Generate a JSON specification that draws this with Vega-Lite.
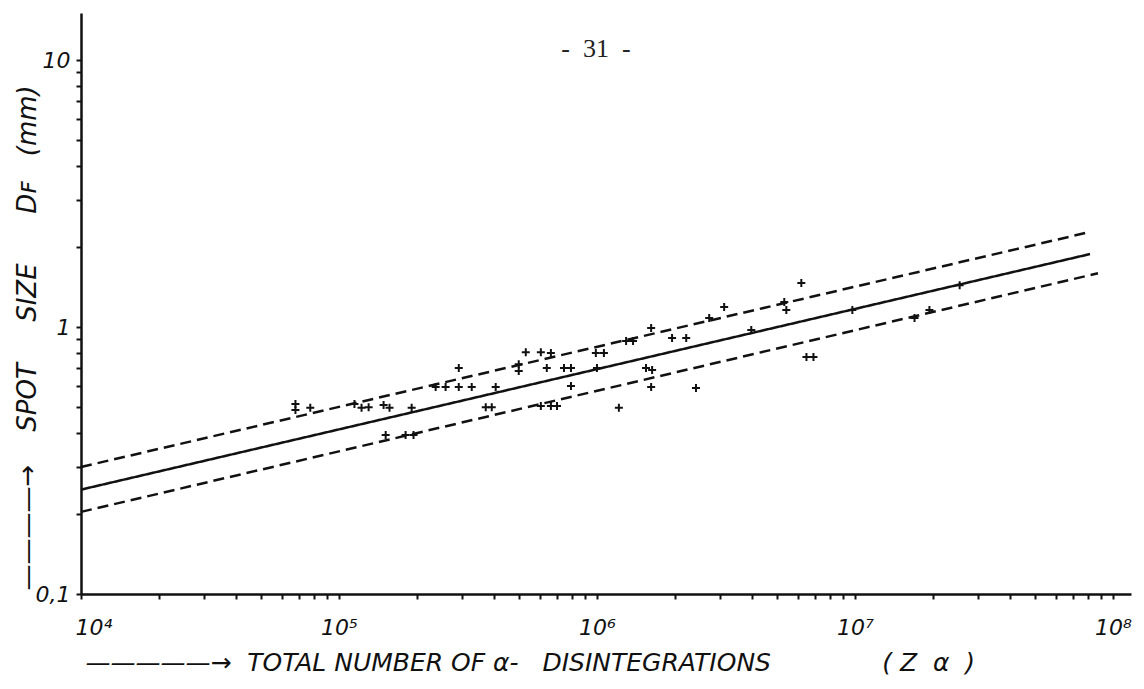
{
  "$schema": "https://vega.github.io/schema/vega-lite/v6.json",
  "autosize": {"type": "none"},
  "padding": {"left": 81, "top": 13, "right": 13, "bottom": 95},
  "width": 1050,
  "height": 581,
  "background": "white",
  "title": {"text": "-\u00a0\u00a031\u00a0\u00a0-", "font": "Liberation Serif", "fontSize": 26, "fontWeight": "normal", "color": "#222", "anchor": "middle", "dx": -10, "dy": 53},
  "config": {
    "view": {"stroke": null},
    "axis": {"grid": false, "domainColor": "#111", "domainWidth": 2.5, "tickColor": "#111", "tickWidth": 2, "tickSize": 5, "labelFont": "DejaVu Sans", "labelFontStyle": "italic", "labelFontSize": 22, "labelColor": "#111", "labelOverlap": false, "titleFont": "DejaVu Sans", "titleFontStyle": "italic", "titleFontWeight": "normal", "titleColor": "#111"}
  },
  "datasets": {
    "lines": [
      {"series": "fit", "x": 10000, "y": 0.246},
      {"series": "fit", "x": 81500000, "y": 1.876},
      {"series": "upper", "x": 10000, "y": 0.299},
      {"series": "upper", "x": 81500000, "y": 2.27},
      {"series": "lower", "x": 10000, "y": 0.203},
      {"series": "lower", "x": 87500000, "y": 1.59}
    ],
    "points": [
      {"z": 67800, "d": 0.515}, {"z": 67800, "d": 0.489}, {"z": 77400, "d": 0.498},
      {"z": 114800, "d": 0.515}, {"z": 122300, "d": 0.498}, {"z": 130300, "d": 0.501},
      {"z": 148900, "d": 0.510}, {"z": 157000, "d": 0.498}, {"z": 191300, "d": 0.498},
      {"z": 151700, "d": 0.394}, {"z": 181200, "d": 0.394}, {"z": 194500, "d": 0.394},
      {"z": 237000, "d": 0.596}, {"z": 259000, "d": 0.596}, {"z": 291300, "d": 0.596},
      {"z": 327000, "d": 0.596}, {"z": 291300, "d": 0.702}, {"z": 405000, "d": 0.596},
      {"z": 370600, "d": 0.501}, {"z": 391000, "d": 0.501}, {"z": 497500, "d": 0.726},
      {"z": 497500, "d": 0.684}, {"z": 529800, "d": 0.805}, {"z": 606000, "d": 0.805},
      {"z": 662900, "d": 0.800}, {"z": 639000, "d": 0.702}, {"z": 745000, "d": 0.702},
      {"z": 793000, "d": 0.702}, {"z": 990000, "d": 0.800}, {"z": 1064000, "d": 0.800},
      {"z": 1000000, "d": 0.702}, {"z": 1297000, "d": 0.887}, {"z": 1380000, "d": 0.887},
      {"z": 1622000, "d": 0.991}, {"z": 793000, "d": 0.601}, {"z": 606000, "d": 0.506},
      {"z": 662900, "d": 0.506}, {"z": 700000, "d": 0.506}, {"z": 1549000, "d": 0.702},
      {"z": 1636000, "d": 0.690}, {"z": 1622000, "d": 0.596}, {"z": 1216000, "d": 0.498},
      {"z": 2420000, "d": 0.591}, {"z": 1955000, "d": 0.910}, {"z": 2218000, "d": 0.910},
      {"z": 2723000, "d": 1.081}, {"z": 3112000, "d": 1.189}, {"z": 3964000, "d": 0.975},
      {"z": 5322000, "d": 1.242}, {"z": 5420000, "d": 1.158}, {"z": 6196000, "d": 1.462},
      {"z": 9772000, "d": 1.158}, {"z": 6487000, "d": 0.772}, {"z": 6905000, "d": 0.772},
      {"z": 17020000, "d": 1.081}, {"z": 19440000, "d": 1.158}, {"z": 25460000, "d": 1.435}
    ]
  },
  "layer": [
    {
      "data": {"name": "lines"},
      "mark": {"type": "line", "color": "#111", "strokeWidth": 2.5},
      "encoding": {
        "x": {"field": "x", "type": "quantitative",
          "scale": {"type": "log", "domain": [10000, 117500000], "nice": false},
          "axis": {
            "values": [10000, 20000, 30000, 40000, 50000, 60000, 70000, 80000, 90000, 100000, 200000, 300000, 400000, 500000, 600000, 700000, 800000, 900000, 1000000, 2000000, 3000000, 4000000, 5000000, 6000000, 7000000, 8000000, 9000000, 10000000, 20000000, 30000000, 40000000, 50000000, 60000000, 70000000, 80000000, 90000000, 100000000],
            "labelExpr": "datum.value == 10000 ? '10⁴' : datum.value == 100000 ? '10⁵' : datum.value == 1000000 ? '10⁶' : datum.value == 10000000 ? '10⁷' : datum.value == 100000000 ? '10⁸' : ''",
            "labelPadding": 18,
            "labelFlush": true,
            "labelFlushOffset": 6,
            "title": "—————→\u00a0\u00a0TOTAL NUMBER OF\u00a0α-\u00a0\u00a0\u00a0DISINTEGRATIONS\u00a0\u00a0\u00a0\u00a0\u00a0\u00a0\u00a0\u00a0\u00a0\u00a0\u00a0\u00a0\u00a0\u00a0(\u00a0Z\u00a0\u00a0α\u00a0\u00a0)",
            "titleFontSize": 25,
            "titleX": 4, "titleY": 76, "titleAlign": "left", "titleBaseline": "alphabetic", "titleAnchor": "start"
          }
        },
        "y": {"field": "y", "type": "quantitative",
          "scale": {"type": "log", "domain": [0.1, 15], "nice": false},
          "axis": {
            "values": [0.1, 0.2, 0.3, 0.4, 0.5, 0.6, 0.7, 0.8, 0.9, 1, 2, 3, 4, 5, 6, 7, 8, 9, 10],
            "labelExpr": "datum.value == 0.1 ? '0,1' : datum.value == 1 ? '1' : datum.value == 10 ? '10' : ''",
            "labelPadding": 6,
            "labelFlush": false,
            "title": "————→\u00a0\u00a0\u00a0\u00a0SPOT\u00a0\u00a0\u00a0\u00a0\u00a0SIZE\u00a0\u00a0\u00a0\u00a0\u00a0\u00a0Dꜰ\u00a0\u00a0\u00a0(mm)",
            "titleFontSize": 26,
            "titleX": -46, "titleY": 577, "titleAlign": "left", "titleBaseline": "alphabetic", "titleAngle": 270, "titleAnchor": "start"
          }
        },
        "detail": {"field": "series"},
        "strokeDash": {"field": "series", "type": "nominal", "scale": {"domain": ["fit", "upper", "lower"], "range": [[1, 0], [11, 6], [11, 6]]}, "legend": null}
      }
    },
    {
      "data": {"name": "points"},
      "mark": {"type": "point", "shape": "M-1,0L1,0M0,-1L0,1", "size": 64, "filled": false, "stroke": "#111", "strokeWidth": 2, "opacity": 1},
      "encoding": {
        "x": {"field": "z", "type": "quantitative"},
        "y": {"field": "d", "type": "quantitative"}
      }
    }
  ]
}
